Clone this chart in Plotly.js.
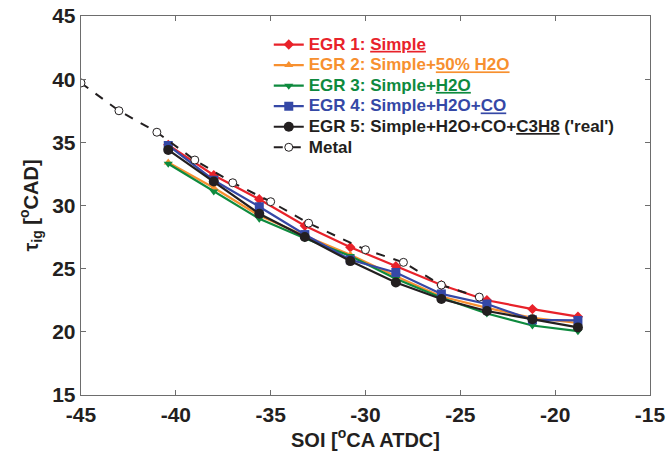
<!DOCTYPE html>
<html>
<head>
<meta charset="utf-8">
<script src="https://cdn.plot.ly/plotly-3.0.1.min.js"></script>
<style>html,body{margin:0;padding:0;background:#fff;}#chart{width:668px;height:460px;}</style>
</head>
<body>
<div id="chart"></div>
<script>
const soiEGR = [-40.4, -38.0, -35.6, -33.2, -30.8, -28.4, -26.0, -23.6, -21.2, -18.8];
const egr1 = [34.8, 32.4, 30.5, 28.4, 26.7, 25.2, 23.7, 22.5, 21.8, 21.2];
const egr2 = [33.4, 31.4, 29.2, 27.6, 26.1, 24.4, 22.8, 21.9, 21.1, 20.7];
const egr3 = [33.3, 31.1, 28.95, 27.4, 26.0, 24.2, 22.7, 21.45, 20.5, 20.05];
const egr4 = [34.75, 32.0, 29.9, 27.7, 25.7, 24.7, 23.0, 22.2, 20.95, 20.9];
const egr5 = [34.4, 31.9, 29.35, 27.5, 25.6, 23.9, 22.6, 21.65, 21.0, 20.35];
const soiMetal = [-45, -43, -41, -39, -37, -35, -33, -30, -28, -26, -24];
const metal = [39.7, 37.5, 35.8, 33.6, 31.8, 30.3, 28.6, 26.5, 25.5, 23.7, 22.75];

const legendLabels = [
  ['#e8222a', 'EGR 1: <u>Simple</u>'],
  ['#f7902f', 'EGR 2: Simple+<u>50% H2O</u>'],
  ['#0e8a3e', 'EGR 3: Simple+<u>H2O</u>'],
  ['#3548a6', 'EGR 4: Simple+H2O+<u>CO</u>'],
  ['#231f20', 'EGR 5: Simple+H2O+CO+<u>C3H8</u> (\'real\')'],
  ['#231f20', 'Metal']
];
const names = legendLabels.map(function (p) {
  return '<span style="color:' + p[0] + ';font-size:17px">' + p[1] + '</span>';
});

function tr(y, name, color, symbol, size) {
  return {x: soiEGR, y: y, name: name, type: 'scatter', mode: 'lines+markers',
    line: {color: color, width: 2.2}, marker: {color: color, symbol: symbol, size: size}};
}

const data = [
  tr(egr1, names[0], '#e8222a', 'diamond', 8),
  tr(egr2, names[1], '#f7902f', 'triangle-up', 8),
  tr(egr3, names[2], '#0e8a3e', 'triangle-down', 8),
  tr(egr4, names[3], '#3548a6', 'square', 9),
  tr(egr5, names[4], '#231f20', 'circle', 10),
  {x: soiMetal, y: metal, name: names[5], type: 'scatter', mode: 'lines+markers',
    line: {color: '#231f20', width: 2, dash: 'dash'},
    marker: {color: '#ffffff', symbol: 'circle', size: 8, line: {color: '#231f20', width: 1}}}
];

const axisCommon = {
  showgrid: false, zeroline: false, showline: true, mirror: 'ticks',
  linecolor: '#6d6d6d', linewidth: 1.3, ticks: 'inside', ticklen: 5, tickcolor: '#6d6d6d',
  tickfont: {family: 'Liberation Sans, Arial, sans-serif', size: 21, color: '#231f20', weight: 'bold'}
};

const layout = {
  width: 668, height: 460,
  margin: {l: 81, r: 18, t: 16, b: 65},
  paper_bgcolor: '#ffffff', plot_bgcolor: '#ffffff',
  showlegend: true,
  font: {family: 'Liberation Sans, Arial, sans-serif', color: '#231f20'},
  xaxis: Object.assign({}, axisCommon, {
    range: [-45, -15], tickvals: [-45, -40, -35, -30, -25, -20, -15],
    ticktext: ['-45', '-40', '-35', '-30', '-25', '-20', '-15'],
    title: {text: '<b>SOI [<sup>o</sup>CA ATDC]</b>', standoff: 4,
      font: {family: 'Liberation Sans, Arial, sans-serif', size: 20, color: '#231f20'}}
  }),
  yaxis: Object.assign({}, axisCommon, {
    range: [15, 45], tickvals: [15, 20, 25, 30, 35, 40, 45],
    title: {text: '<b>τ<sub>ig</sub> [<sup>o</sup>CAD]</b>', standoff: 8,
      font: {family: 'Liberation Sans, Arial, sans-serif', size: 20, color: '#231f20'}}
  }),
  legend: {
    x: 0.33, y: 0.965, xanchor: 'left', yanchor: 'top',
    bgcolor: 'rgba(255,255,255,0)', borderwidth: 0,
    font: {family: 'Liberation Sans, Arial, sans-serif', size: 13.5, weight: 'bold', color: '#231f20'},
    tracegroupgap: 0, itemwidth: 30
  }
};

Plotly.newPlot('chart', data, layout, {staticPlot: true, displayModeBar: false});
</script>
</body>
</html>
